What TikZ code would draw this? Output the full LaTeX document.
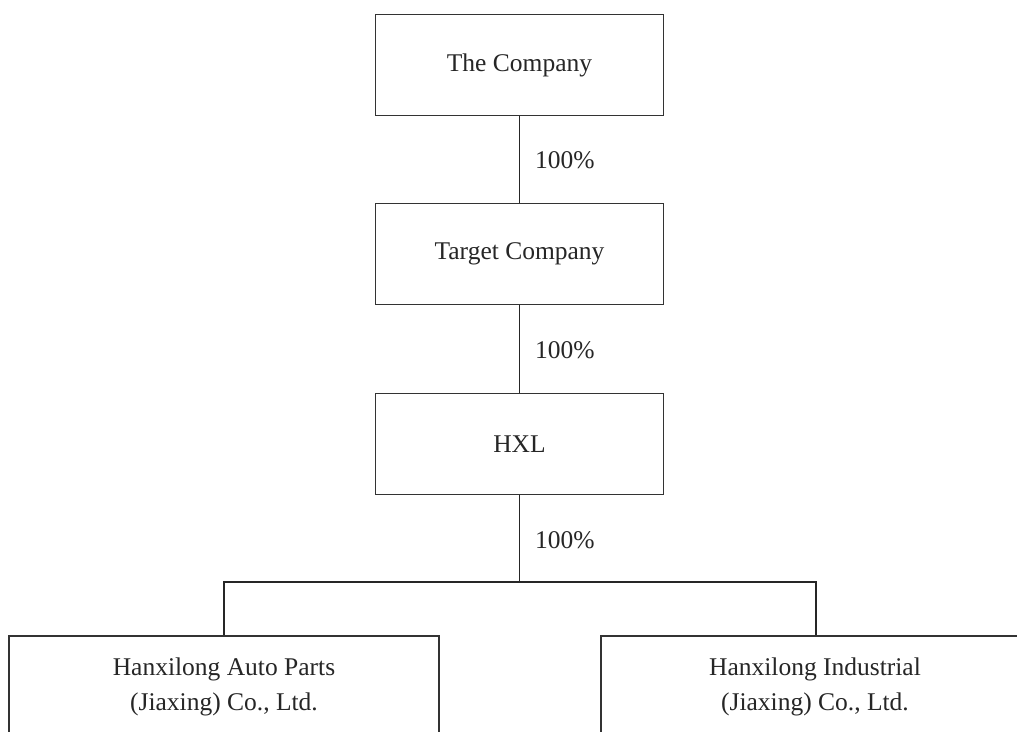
\documentclass[tikz,border=0pt]{standalone}
\usepackage{fontspec}
\setmainfont{Liberation Serif}
\begin{document}
\begin{tikzpicture}[x=1pt,y=-1pt,
  every node/.style={font=\fontsize{25.5}{35}\selectfont, text=black!85},
  box/.style={draw=black!80, line width=1.2pt, minimum width=288pt, minimum height=101pt, inner sep=0pt},
  lowbox/.style={draw=black!80, line width=1.2pt, minimum width=430pt, minimum height=120pt, inner sep=0pt},
  link/.style={draw=black!85, line width=1.1pt},
  pct/.style={anchor=west, inner sep=0pt}
]
\useasboundingbox (0,0) rectangle (1017,731);
\clip (0,0) rectangle (1017,731);
\fill[white] (0,0) rectangle (1017,731);
\node[box] (tc) at (519.5,65) {The Company};
\node[box] (tg) at (519.5,254) {Target Company};
\node[box] (hxl) at (519.5,444) {HXL};
\node[lowbox] (hap) at (224,696) {};
\node[lowbox] (hin) at (816,696) {};
\node[align=center, inner sep=0pt] (hapt) at (224,687) {Hanxilong Auto Parts\\(Jiaxing) Co., Ltd.};
\node[align=center, inner sep=0pt] (hint) at (815,687) {Hanxilong Industrial\\(Jiaxing) Co., Ltd.};
\coordinate (j) at (519.5,582);
\path[link] (tc.south) -- (tg.north);
\path[link] (tg.south) -- (hxl.north);
\path[link] (hxl.south) -- (j);
\path[link] (hap.north) |- (j) -| (hin.north);
\node[pct] (p1) at (535,160) {100\%};
\node[pct] (p2) at (535,350) {100\%};
\node[pct] (p3) at (535,540) {100\%};
\end{tikzpicture}
\end{document}
